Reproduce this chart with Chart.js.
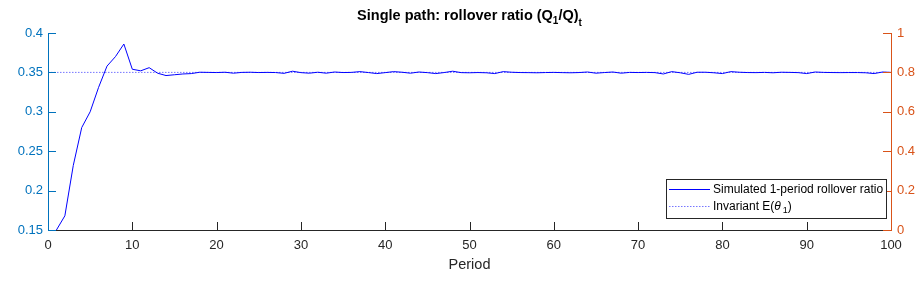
<!DOCTYPE html>
<html>
<head>
<meta charset="utf-8">
<script src="https://cdn.jsdelivr.net/npm/chart.js@4.4.1/dist/chart.umd.min.js"></script>
<style>
  html, body { margin: 0; padding: 0; background: #fff; }
  canvas { display: block; }
</style>
</head>
<body>
<canvas id="chart" width="921" height="282"></canvas>
<script>
// Periods on the x axis
const periods = [
  1, 2, 3, 4, 5, 6, 7, 8, 9, 10, 11, 12, 13, 14, 15, 16, 17, 18, 19, 20,
  21, 22, 23, 24, 25, 26, 27, 28, 29, 30, 31, 32, 33, 34, 35, 36, 37, 38, 39, 40,
  41, 42, 43, 44, 45, 46, 47, 48, 49, 50, 51, 52, 53, 54, 55, 56, 57, 58, 59, 60,
  61, 62, 63, 64, 65, 66, 67, 68, 69, 70, 71, 72, 73, 74, 75, 76, 77, 78, 79, 80,
  81, 82, 83, 84, 85, 86, 87, 88, 89, 90, 91, 92, 93, 94, 95, 96, 97, 98, 99, 100
];

// Simulated 1-period rollover ratio
const rolloverRatio = [
  0.150, 0.168, 0.232, 0.280, 0.300, 0.331, 0.358, 0.370, 0.386, 0.354,
  0.352, 0.356, 0.349, 0.346, 0.347, 0.348, 0.3485, 0.3502, 0.3500, 0.3498,
  0.3502, 0.3490, 0.3500, 0.3502, 0.3498, 0.3500, 0.3498, 0.3488, 0.3515, 0.3497,
  0.3490, 0.3502, 0.3490, 0.3505, 0.3498, 0.3500, 0.3510, 0.3498, 0.3485, 0.3497,
  0.3510, 0.3502, 0.3490, 0.3505, 0.3497, 0.3485, 0.3498, 0.3515, 0.3497, 0.3495,
  0.3498, 0.3495, 0.3485, 0.3510, 0.3502, 0.3498, 0.3497, 0.3495, 0.3498, 0.3500,
  0.3497, 0.3495, 0.3498, 0.3505, 0.3490, 0.3498, 0.3505, 0.3490, 0.3500, 0.3498,
  0.3500, 0.3497, 0.3480, 0.3510, 0.3495, 0.3475, 0.3502, 0.3502, 0.3495, 0.3485,
  0.3510, 0.3502, 0.3498, 0.3497, 0.3500, 0.3495, 0.3502, 0.3500, 0.3497, 0.3485,
  0.3505, 0.3500, 0.3498, 0.3497, 0.3498, 0.3498, 0.3495, 0.3485, 0.3505, 0.3500
];

// Invariant E(theta_1), drawn across the whole period range
const invariantX = [0, 100];
const invariantValue = [0.35, 0.35];

// Tick labels
const xTicks = [0, 10, 20, 30, 40, 50, 60, 70, 80, 90, 100];
const leftTicks = [0.15, 0.2, 0.25, 0.3, 0.35, 0.4];
const rightTicks = [0, 0.2, 0.4, 0.6, 0.8, 1];

const FONT = '"Liberation Sans", Arial, Helvetica, sans-serif';
const leftColor = '#0072BD';
const rightColor = '#D95319';
const axisGray = '#262626';

// Ticks pointing into the plot, like the original
const inwardTicks = {
  id: 'inwardTicks',
  afterDraw(chart) {
    const { ctx, chartArea: a, scales } = chart;
    const len = 8;
    ctx.save();
    ctx.lineWidth = 1;

    ctx.strokeStyle = axisGray;
    scales.x.ticks.forEach(t => {
      const px = Math.round(scales.x.getPixelForValue(t.value)) + 0.5;
      if (px < a.left + 2 || px > a.right - 2) return;
      ctx.beginPath();
      ctx.moveTo(px, a.bottom);
      ctx.lineTo(px, a.bottom - len);
      ctx.stroke();
    });

    ctx.strokeStyle = leftColor;
    scales.y.ticks.forEach(t => {
      const py = Math.round(scales.y.getPixelForValue(t.value)) + 0.5;
      ctx.beginPath();
      ctx.moveTo(a.left, py);
      ctx.lineTo(a.left + len, py);
      ctx.stroke();
    });

    ctx.strokeStyle = rightColor;
    scales.y1.ticks.forEach(t => {
      const py = Math.round(scales.y1.getPixelForValue(t.value)) + 0.5;
      ctx.beginPath();
      ctx.moveTo(a.right, py);
      ctx.lineTo(a.right - len, py);
      ctx.stroke();
    });
    ctx.restore();
  }
};

// Title with subscripts
const titlePlugin = {
  id: 'titlePlugin',
  afterDraw(chart) {
    const { ctx, chartArea: a } = chart;
    const parts = [
      { t: 'Single path: rollover ratio (Q', f: 'bold 14.5px ' + FONT, dy: 0 },
      { t: '1', f: 'bold 10px ' + FONT, dy: 4 },
      { t: '/Q)', f: 'bold 14.5px ' + FONT, dy: 0 },
      { t: 't', f: 'bold 10px ' + FONT, dy: 6 }
    ];
    ctx.save();
    ctx.fillStyle = '#000';
    ctx.textBaseline = 'alphabetic';
    let total = 0;
    parts.forEach(p => { ctx.font = p.f; p.w = ctx.measureText(p.t).width; total += p.w; });
    let x = (a.left + a.right) / 2 - total / 2;
    const base = 20;
    parts.forEach(p => {
      ctx.font = p.f;
      ctx.fillText(p.t, x, base + p.dy);
      x += p.w;
    });
    ctx.restore();
  }
};

// Boxed legend inside the lower right corner
const legendBox = {
  id: 'legendBox',
  afterDraw(chart) {
    const { ctx } = chart;
    const box = { l: 666, t: 179, r: 886, b: 218 };
    ctx.save();
    ctx.fillStyle = '#fff';
    ctx.fillRect(box.l, box.t, box.r - box.l, box.b - box.t);
    ctx.strokeStyle = '#262626';
    ctx.lineWidth = 1;
    ctx.strokeRect(box.l + 0.5, box.t + 0.5, box.r - box.l, box.b - box.t);

    const row1 = 189.5, row2 = 206.5;
    ctx.strokeStyle = '#0000ff';
    ctx.beginPath();
    ctx.moveTo(669, row1);
    ctx.lineTo(710, row1);
    ctx.stroke();

    ctx.strokeStyle = 'rgba(60,60,255,0.7)';
    ctx.setLineDash([1.5, 1.5]);
    ctx.beginPath();
    ctx.moveTo(669, row2);
    ctx.lineTo(710, row2);
    ctx.stroke();
    ctx.setLineDash([]);

    ctx.fillStyle = '#000';
    ctx.textBaseline = 'middle';
    ctx.font = '12px ' + FONT;
    ctx.fillText('Simulated 1-period rollover ratio', 713, row1);

    let x = 713;
    const pieces = [
      { t: 'Invariant E(', f: '12px ' + FONT, dy: 0 },
      { t: '\u03B8', f: 'italic 12px ' + FONT, dy: 0 },
      { t: '1', f: '9px ' + FONT, dy: 4 },
      { t: ')', f: '12px ' + FONT, dy: 0 }
    ];
    pieces.forEach(p => {
      ctx.font = p.f;
      ctx.fillText(p.t, x, row2 + p.dy);
      x += ctx.measureText(p.t).width + (p.t === '\u03B8' ? 2 : 0);
    });
    ctx.restore();
  }
};

new Chart(document.getElementById('chart'), {
  type: 'line',
  data: {
    datasets: [
      {
        label: 'Simulated 1-period rollover ratio',
        data: periods.map((p, i) => ({ x: p, y: rolloverRatio[i] })),
        borderColor: '#0000ff',
        borderWidth: 1,
        pointRadius: 0,
        tension: 0,
        yAxisID: 'y'
      },
      {
        label: 'Invariant E(\u03B8\u2081)',
        data: invariantX.map((p, i) => ({ x: p, y: invariantValue[i] })),
        borderColor: 'rgba(60,60,255,0.7)',
        borderWidth: 1,
        borderDash: [1.5, 1.5],
        pointRadius: 0,
        yAxisID: 'y'
      }
    ]
  },
  options: {
    responsive: false,
    animation: false,
    events: [],
    layout: { padding: { top: 33, left: 0, right: 0, bottom: 0 } },
    plugins: {
      legend: { display: false },
      tooltip: { enabled: false },
      title: { display: false }
    },
    scales: {
      x: {
        type: 'linear',
        min: 0,
        max: 100,
        afterBuildTicks: s => { s.ticks = xTicks.map(v => ({ value: v })); },
        afterFit: s => { s.height = 52; },
        grid: { display: false, drawTicks: false },
        border: { display: true, color: axisGray, width: 1 },
        ticks: {
          color: axisGray,
          padding: 8,
          maxRotation: 0,
          font: { family: FONT, size: 13 },
          callback: v => String(v)
        },
        title: {
          display: true,
          text: 'Period',
          color: axisGray,
          font: { family: FONT, size: 14.5 },
          padding: { top: 0, bottom: 8 }
        }
      },
      y: {
        position: 'left',
        min: 0.15,
        max: 0.4,
        afterBuildTicks: s => { s.ticks = leftTicks.map(v => ({ value: v })); },
        afterFit: s => { s.width = 48; },
        grid: { display: false, drawTicks: false },
        border: { display: true, color: leftColor, width: 1 },
        ticks: {
          color: leftColor,
          padding: 5,
          font: { family: FONT, size: 13 },
          callback: v => String(v)
        }
      },
      y1: {
        position: 'right',
        min: 0,
        max: 1,
        afterBuildTicks: s => { s.ticks = rightTicks.map(v => ({ value: v })); },
        afterFit: s => { s.width = 30; },
        grid: { display: false, drawTicks: false },
        border: { display: true, color: rightColor, width: 1 },
        ticks: {
          color: rightColor,
          padding: 6,
          font: { family: FONT, size: 13 },
          callback: v => String(v)
        }
      }
    }
  },
  plugins: [inwardTicks, titlePlugin, legendBox]
});
</script>
</body>
</html>
